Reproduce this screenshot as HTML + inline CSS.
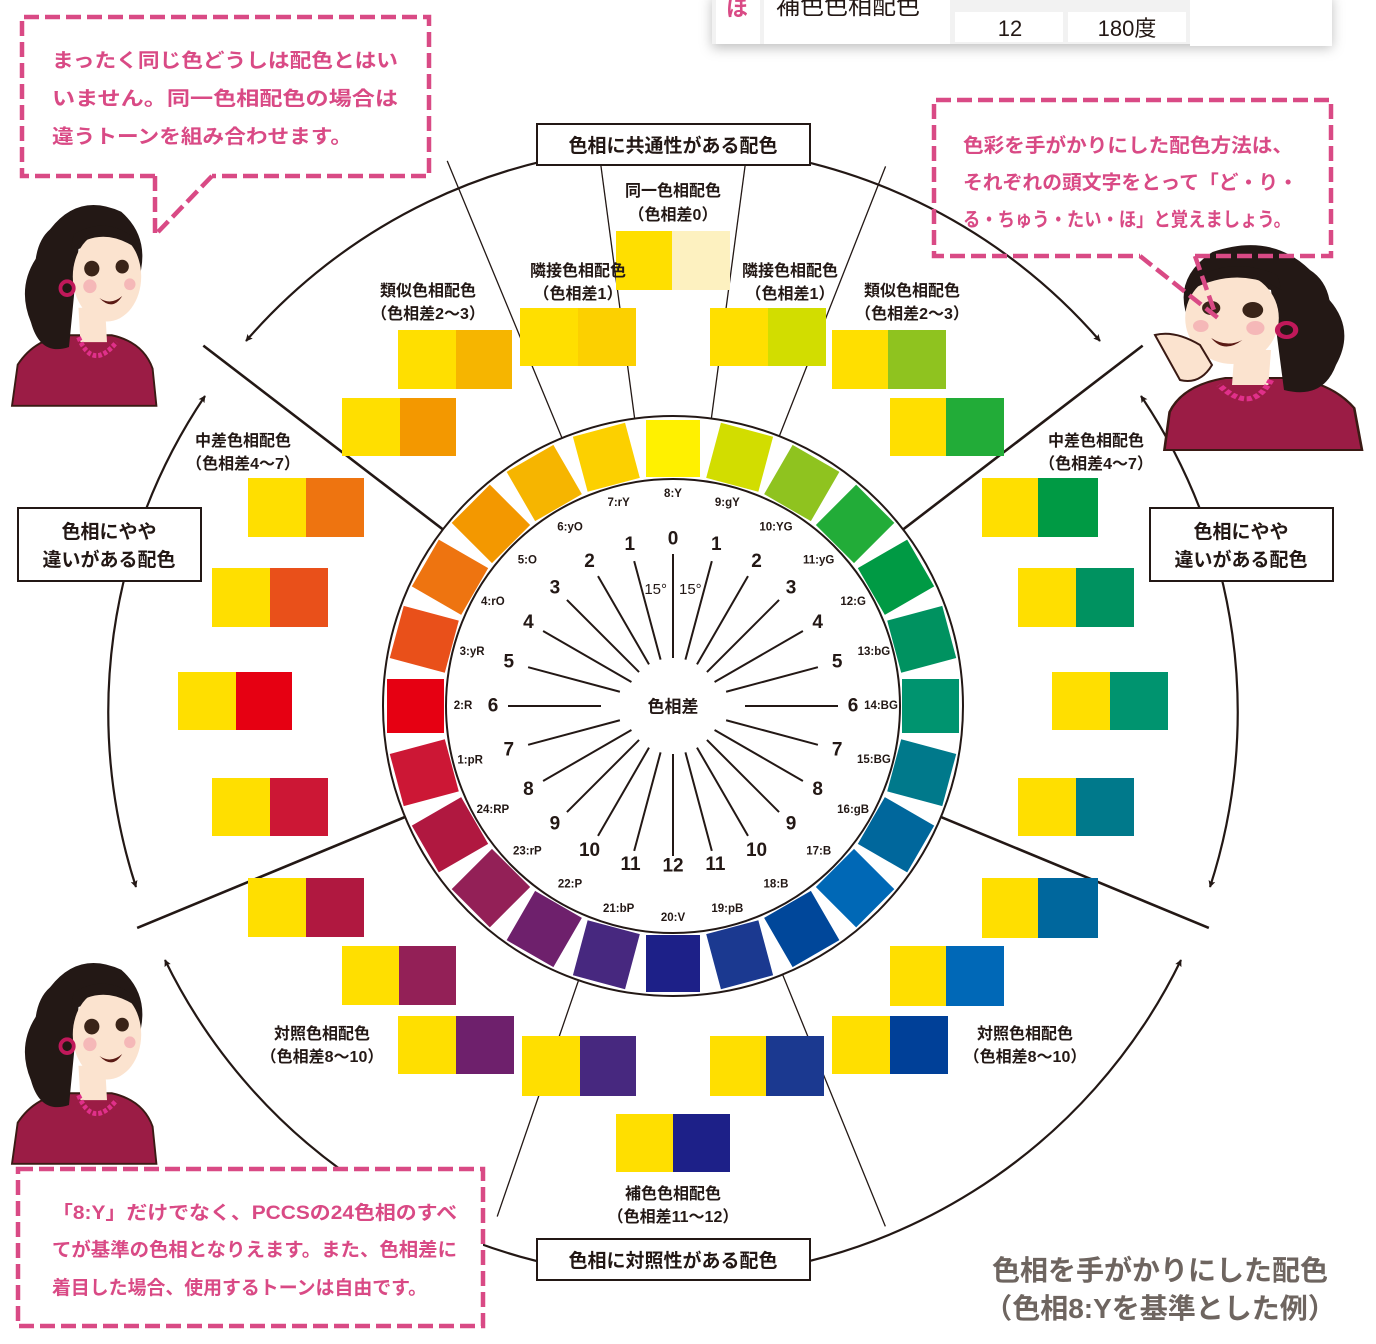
<!DOCTYPE html>
<html><head><meta charset="utf-8"><style>
html,body{margin:0;padding:0;background:#fff}
svg{display:block}
text{font-family:"Liberation Sans","Noto Sans CJK JP",sans-serif}
.lb{font-size:16px;fill:#231815;text-anchor:middle;font-weight:bold}
.bx{font-size:19px;fill:#231815;text-anchor:middle;font-weight:bold}
.pk{font-size:19.5px;fill:#d94a85;font-weight:bold}
.hl{font-size:11.5px;font-weight:bold;fill:#231815;text-anchor:middle;dominant-baseline:central}
.nm{font-size:19px;font-weight:bold;fill:#231815;text-anchor:middle;dominant-baseline:central}
</style></head><body>
<svg width="1376" height="1344" viewBox="0 0 1376 1344" xmlns="http://www.w3.org/2000/svg">
<defs>
<marker id="ar" viewBox="0 0 10 10" refX="9" refY="5" markerWidth="7" markerHeight="7" orient="auto-start-reverse" markerUnits="userSpaceOnUse"><path d="M0,0 L10,5 L0,10 L2,5 Z" fill="#231815"/></marker>
<g id="woman">
<path d="M0,210 L6,168 Q25,140 60,138 L105,138 Q138,145 148,172 L152,210 Z" fill="#9b1c45" stroke="#3a1a14" stroke-width="2"/>
<path d="M70,110 L98,110 L100,145 L72,145 Z" fill="#fbe3cf"/>
<path d="M40,30 Q70,-8 115,12 Q148,40 132,85 L120,70 Q100,40 70,50 L60,150 Q30,160 20,125 Q5,90 25,60 Q28,40 40,30 Z" fill="#231815"/>
<ellipse cx="100" cy="78" rx="36" ry="46" fill="#fbe3cf"/>
<path d="M62,50 Q95,25 132,50 L130,40 Q100,15 65,35 Z" fill="#231815"/>
<circle cx="84" cy="70" r="8" fill="#3a2418"/><circle cx="116" cy="68" r="7" fill="#3a2418"/>
<circle cx="82" cy="88" r="7" fill="#f5b8b8"/><circle cx="124" cy="86" r="6" fill="#f5b8b8"/>
<path d="M92,100 Q104,108 116,98 Q106,114 92,100 Z" fill="#5a1a14"/>
<circle cx="58" cy="90" r="7" fill="none" stroke="#c0185a" stroke-width="4"/>
<path d="M70,140 Q85,175 110,145" fill="none" stroke="#e0308a" stroke-width="5" stroke-dasharray="4 2"/>
</g>
</defs>

<!-- table top -->
<rect x="712" y="-6" width="620" height="50" fill="#fff" style="filter:drop-shadow(0 4px 6px rgba(0,0,0,0.25))"/>
<rect x="712" y="-6" width="620" height="50" fill="#f2f2f2"/>
<rect x="716" y="-6" width="44" height="50" fill="#fff"/>
<rect x="764" y="-6" width="186" height="50" fill="#fff"/>
<rect x="955" y="-6" width="108" height="6" fill="#fff"/>
<rect x="1068" y="-6" width="118" height="6" fill="#fff"/>
<rect x="955" y="12" width="108" height="30" fill="#fff"/>
<rect x="1068" y="12" width="118" height="30" fill="#fff"/>
<rect x="1190" y="-6" width="142" height="52" fill="#fff"/>
<text x="726" y="16" style="font-size:22px;fill:#d94a85;font-weight:bold">ほ</text>
<text x="776" y="14" style="font-size:24px;fill:#231815">補色色相配色</text>
<text x="1010" y="36" style="font-size:22px;fill:#231815;text-anchor:middle">12</text>
<text x="1127" y="36" style="font-size:22px;fill:#231815;text-anchor:middle">180度</text>

<!-- arcs -->
<g fill="none" stroke="#231815" stroke-width="2.2" marker-start="url(#ar)" marker-end="url(#ar)">
<path d="M246,341 A565,565 0 0 1 1100,341"/>
<path d="M205,396 A565,565 0 0 0 136,887"/>
<path d="M165,960 A565,565 0 0 0 1181,960"/>
<path d="M1141,396 A565,565 0 0 1 1210,887"/>
</g>

<!-- wheel lines -->
<g transform="translate(673,706)" stroke="#231815">
<g stroke-width="2.6">
<line x1="0" y1="-229" x2="0" y2="-592" transform="rotate(-52.5)"/>
<line x1="0" y1="-229" x2="0" y2="-592" transform="rotate(52.5)"/>
<line x1="0" y1="-229" x2="0" y2="-580" transform="rotate(-112.5)"/>
<line x1="0" y1="-229" x2="0" y2="-580" transform="rotate(112.5)"/>
</g>
<g stroke-width="1.3">
<line x1="0" y1="-229" x2="0" y2="-546" transform="rotate(-7.6)"/>
<line x1="0" y1="-229" x2="0" y2="-546" transform="rotate(7.6)"/>
<line x1="0" y1="-229" x2="0" y2="-590" transform="rotate(-22.5)"/>
<line x1="0" y1="-229" x2="0" y2="-580" transform="rotate(21.5)"/>
<line x1="0" y1="-229" x2="0" y2="-540" transform="rotate(-161)"/>
<line x1="0" y1="-229" x2="0" y2="-562" transform="rotate(157.8)"/>
</g>
</g>

<!-- wheel -->
<g transform="translate(673,706)">
<circle r="290" fill="#fff" stroke="#231815" stroke-width="2"/>
<circle r="227" fill="#fff" stroke="#231815" stroke-width="2"/>
<g>
<rect x="-27" y="-286" width="54" height="57" fill="#cc1735" transform="rotate(-105)"/>
<rect x="-27" y="-286" width="54" height="57" fill="#e60012" transform="rotate(-90)"/>
<rect x="-27" y="-286" width="54" height="57" fill="#e9501a" transform="rotate(-75)"/>
<rect x="-27" y="-286" width="54" height="57" fill="#ee7410" transform="rotate(-60)"/>
<rect x="-27" y="-286" width="54" height="57" fill="#f39800" transform="rotate(-45)"/>
<rect x="-27" y="-286" width="54" height="57" fill="#f6b500" transform="rotate(-30)"/>
<rect x="-27" y="-286" width="54" height="57" fill="#fcd000" transform="rotate(-15)"/>
<rect x="-27" y="-286" width="54" height="57" fill="#fff100" transform="rotate(0)"/>
<rect x="-27" y="-286" width="54" height="57" fill="#d2dd00" transform="rotate(15)"/>
<rect x="-27" y="-286" width="54" height="57" fill="#8fc31f" transform="rotate(30)"/>
<rect x="-27" y="-286" width="54" height="57" fill="#22ac38" transform="rotate(45)"/>
<rect x="-27" y="-286" width="54" height="57" fill="#009a44" transform="rotate(60)"/>
<rect x="-27" y="-286" width="54" height="57" fill="#009260" transform="rotate(75)"/>
<rect x="-27" y="-286" width="54" height="57" fill="#00946f" transform="rotate(90)"/>
<rect x="-27" y="-286" width="54" height="57" fill="#00798b" transform="rotate(105)"/>
<rect x="-27" y="-286" width="54" height="57" fill="#00679c" transform="rotate(120)"/>
<rect x="-27" y="-286" width="54" height="57" fill="#0068b6" transform="rotate(135)"/>
<rect x="-27" y="-286" width="54" height="57" fill="#00479a" transform="rotate(150)"/>
<rect x="-27" y="-286" width="54" height="57" fill="#1b3990" transform="rotate(165)"/>
<rect x="-27" y="-286" width="54" height="57" fill="#1d2088" transform="rotate(180)"/>
<rect x="-27" y="-286" width="54" height="57" fill="#47287f" transform="rotate(195)"/>
<rect x="-27" y="-286" width="54" height="57" fill="#6e206c" transform="rotate(210)"/>
<rect x="-27" y="-286" width="54" height="57" fill="#932057" transform="rotate(225)"/>
<rect x="-27" y="-286" width="54" height="57" fill="#b01840" transform="rotate(240)"/>
</g>
<g>
<text class="hl" transform="rotate(-105) translate(0,-210) rotate(105)">1:pR</text>
<text class="hl" transform="rotate(-90) translate(0,-210) rotate(90)">2:R</text>
<text class="hl" transform="rotate(-75) translate(0,-208) rotate(75)">3:yR</text>
<text class="hl" transform="rotate(-60) translate(0,-208) rotate(60)">4:rO</text>
<text class="hl" transform="rotate(-45) translate(0,-206) rotate(45)">5:O</text>
<text class="hl" transform="rotate(-30) translate(0,-206) rotate(30)">6:yO</text>
<text class="hl" transform="rotate(-15) translate(0,-210) rotate(15)">7:rY</text>
<text class="hl" transform="rotate(0) translate(0,-212)">8:Y</text>
<text class="hl" transform="rotate(15) translate(0,-210) rotate(-15)">9:gY</text>
<text class="hl" transform="rotate(30) translate(0,-206) rotate(-30)">10:YG</text>
<text class="hl" transform="rotate(45) translate(0,-206) rotate(-45)">11:yG</text>
<text class="hl" transform="rotate(60) translate(0,-208) rotate(-60)">12:G</text>
<text class="hl" transform="rotate(75) translate(0,-208) rotate(-75)">13:bG</text>
<text class="hl" transform="rotate(90) translate(0,-208) rotate(-90)">14:BG</text>
<text class="hl" transform="rotate(105) translate(0,-208) rotate(-105)">15:BG</text>
<text class="hl" transform="rotate(120) translate(0,-208) rotate(-120)">16:gB</text>
<text class="hl" transform="rotate(135) translate(0,-206) rotate(-135)">17:B</text>
<text class="hl" transform="rotate(150) translate(0,-206) rotate(-150)">18:B</text>
<text class="hl" transform="rotate(165) translate(0,-210) rotate(-165)">19:pB</text>
<text class="hl" transform="rotate(180) translate(0,-212) rotate(-180)">20:V</text>
<text class="hl" transform="rotate(195) translate(0,-210) rotate(-195)">21:bP</text>
<text class="hl" transform="rotate(210) translate(0,-206) rotate(-210)">22:P</text>
<text class="hl" transform="rotate(225) translate(0,-206) rotate(-225)">23:rP</text>
<text class="hl" transform="rotate(240) translate(0,-208) rotate(-240)">24:RP</text>
</g>
<g stroke="#231815" stroke-width="2">
<line x1="0" y1="-48" x2="0" y2="-152"/>
<line x1="0" y1="-48" x2="0" y2="-150" transform="rotate(15)"/>
<line x1="0" y1="-48" x2="0" y2="-150" transform="rotate(30)"/>
<line x1="0" y1="-48" x2="0" y2="-150" transform="rotate(45)"/>
<line x1="0" y1="-48" x2="0" y2="-150" transform="rotate(60)"/>
<line x1="0" y1="-55" x2="0" y2="-150" transform="rotate(75)"/>
<line x1="0" y1="-72" x2="0" y2="-165" transform="rotate(90)"/>
<line x1="0" y1="-55" x2="0" y2="-150" transform="rotate(105)"/>
<line x1="0" y1="-48" x2="0" y2="-150" transform="rotate(120)"/>
<line x1="0" y1="-48" x2="0" y2="-150" transform="rotate(135)"/>
<line x1="0" y1="-48" x2="0" y2="-150" transform="rotate(150)"/>
<line x1="0" y1="-48" x2="0" y2="-150" transform="rotate(165)"/>
<line x1="0" y1="-48" x2="0" y2="-150" transform="rotate(180)"/>
<line x1="0" y1="-48" x2="0" y2="-150" transform="rotate(195)"/>
<line x1="0" y1="-48" x2="0" y2="-150" transform="rotate(210)"/>
<line x1="0" y1="-48" x2="0" y2="-150" transform="rotate(225)"/>
<line x1="0" y1="-48" x2="0" y2="-150" transform="rotate(240)"/>
<line x1="0" y1="-55" x2="0" y2="-150" transform="rotate(255)"/>
<line x1="0" y1="-72" x2="0" y2="-165" transform="rotate(270)"/>
<line x1="0" y1="-55" x2="0" y2="-150" transform="rotate(285)"/>
<line x1="0" y1="-48" x2="0" y2="-150" transform="rotate(300)"/>
<line x1="0" y1="-48" x2="0" y2="-150" transform="rotate(315)"/>
<line x1="0" y1="-48" x2="0" y2="-150" transform="rotate(330)"/>
<line x1="0" y1="-48" x2="0" y2="-150" transform="rotate(345)"/>
</g>
<g>
<text class="nm" transform="translate(0,-167)">0</text>
<text class="nm" transform="rotate(15) translate(0,-167) rotate(-15)">1</text>
<text class="nm" transform="rotate(30) translate(0,-167) rotate(-30)">2</text>
<text class="nm" transform="rotate(45) translate(0,-167) rotate(-45)">3</text>
<text class="nm" transform="rotate(60) translate(0,-167) rotate(-60)">4</text>
<text class="nm" transform="rotate(75) translate(0,-170) rotate(-75)">5</text>
<text class="nm" transform="rotate(90) translate(0,-180) rotate(-90)">6</text>
<text class="nm" transform="rotate(105) translate(0,-170) rotate(-105)">7</text>
<text class="nm" transform="rotate(120) translate(0,-167) rotate(-120)">8</text>
<text class="nm" transform="rotate(135) translate(0,-167) rotate(-135)">9</text>
<text class="nm" transform="rotate(150) translate(0,-167) rotate(-150)">10</text>
<text class="nm" transform="rotate(165) translate(0,-164) rotate(-165)">11</text>
<text class="nm" transform="rotate(180) translate(0,-160) rotate(-180)">12</text>
<text class="nm" transform="rotate(-15) translate(0,-167) rotate(15)">1</text>
<text class="nm" transform="rotate(-30) translate(0,-167) rotate(30)">2</text>
<text class="nm" transform="rotate(-45) translate(0,-167) rotate(45)">3</text>
<text class="nm" transform="rotate(-60) translate(0,-167) rotate(60)">4</text>
<text class="nm" transform="rotate(-75) translate(0,-170) rotate(75)">5</text>
<text class="nm" transform="rotate(-90) translate(0,-180) rotate(90)">6</text>
<text class="nm" transform="rotate(-105) translate(0,-170) rotate(105)">7</text>
<text class="nm" transform="rotate(-120) translate(0,-167) rotate(120)">8</text>
<text class="nm" transform="rotate(-135) translate(0,-167) rotate(135)">9</text>
<text class="nm" transform="rotate(-150) translate(0,-167) rotate(150)">10</text>
<text class="nm" transform="rotate(-165) translate(0,-164) rotate(165)">11</text>
</g>
<text x="-6" y="-112" style="font-size:15px;fill:#231815;text-anchor:end">15°</text>
<text x="6" y="-112" style="font-size:15px;fill:#231815">15°</text>
<text x="0" y="1" style="font-size:17px;font-weight:bold;fill:#231815;text-anchor:middle;dominant-baseline:central">色相差</text>
</g>

<!-- swatches -->
<g>
<rect x="616" y="231" width="58" height="59" fill="#ffdf00"/><rect x="672" y="231" width="58" height="59" fill="#fdf1c0"/>
<rect x="520" y="308" width="58" height="58" fill="#ffdf00"/><rect x="578" y="308" width="58" height="58" fill="#fcd000"/>
<rect x="710" y="308" width="58" height="58" fill="#ffdf00"/><rect x="768" y="308" width="58" height="58" fill="#d2dd00"/>
<rect x="398" y="330" width="58" height="59" fill="#ffdf00"/><rect x="456" y="330" width="56" height="59" fill="#f6b500"/>
<rect x="342" y="398" width="58" height="58" fill="#ffdf00"/><rect x="400" y="398" width="56" height="58" fill="#f39800"/>
<rect x="832" y="330" width="58" height="59" fill="#ffdf00"/><rect x="888" y="330" width="58" height="59" fill="#8fc31f"/>
<rect x="890" y="398" width="58" height="58" fill="#ffdf00"/><rect x="946" y="398" width="58" height="58" fill="#22ac38"/>
<rect x="248" y="478" width="58" height="59" fill="#ffdf00"/><rect x="306" y="478" width="58" height="59" fill="#ee7410"/>
<rect x="212" y="568" width="58" height="59" fill="#ffdf00"/><rect x="270" y="568" width="58" height="59" fill="#e9501a"/>
<rect x="178" y="672" width="58" height="58" fill="#ffdf00"/><rect x="236" y="672" width="56" height="58" fill="#e60012"/>
<rect x="212" y="778" width="58" height="58" fill="#ffdf00"/><rect x="270" y="778" width="58" height="58" fill="#cc1735"/>
<rect x="982" y="478" width="58" height="59" fill="#ffdf00"/><rect x="1038" y="478" width="60" height="59" fill="#009a44"/>
<rect x="1018" y="568" width="58" height="59" fill="#ffdf00"/><rect x="1076" y="568" width="58" height="59" fill="#009260"/>
<rect x="1052" y="672" width="58" height="58" fill="#ffdf00"/><rect x="1110" y="672" width="58" height="58" fill="#00946f"/>
<rect x="1018" y="778" width="58" height="58" fill="#ffdf00"/><rect x="1076" y="778" width="58" height="58" fill="#00798b"/>
<rect x="248" y="878" width="58" height="59" fill="#ffdf00"/><rect x="306" y="878" width="58" height="59" fill="#b01840"/>
<rect x="342" y="946" width="58" height="59" fill="#ffdf00"/><rect x="399" y="946" width="57" height="59" fill="#932057"/>
<rect x="398" y="1016" width="58" height="58" fill="#ffdf00"/><rect x="456" y="1016" width="58" height="58" fill="#6e206c"/>
<rect x="522" y="1036" width="58" height="60" fill="#ffdf00"/><rect x="580" y="1036" width="56" height="60" fill="#47287f"/>
<rect x="982" y="878" width="58" height="60" fill="#ffdf00"/><rect x="1038" y="878" width="60" height="60" fill="#00679d"/>
<rect x="890" y="946" width="58" height="60" fill="#ffdf00"/><rect x="946" y="946" width="58" height="60" fill="#0068b7"/>
<rect x="832" y="1016" width="58" height="58" fill="#ffdf00"/><rect x="890" y="1016" width="58" height="58" fill="#004098"/>
<rect x="710" y="1036" width="58" height="60" fill="#ffdf00"/><rect x="766" y="1036" width="58" height="60" fill="#1b3990"/>
<rect x="616" y="1114" width="58" height="58" fill="#ffdf00"/><rect x="673" y="1114" width="57" height="58" fill="#1d2088"/>
</g>

<!-- swatch labels -->
<text class="lb" x="673" y="196">同一色相配色</text><text class="lb" x="673" y="220">（色相差0）</text>
<text class="lb" x="578" y="276">隣接色相配色</text><text class="lb" x="578" y="299">（色相差1）</text>
<text class="lb" x="790" y="276">隣接色相配色</text><text class="lb" x="790" y="299">（色相差1）</text>
<text class="lb" x="428" y="296">類似色相配色</text><text class="lb" x="428" y="319">（色相差2〜3）</text>
<text class="lb" x="912" y="296">類似色相配色</text><text class="lb" x="912" y="319">（色相差2〜3）</text>
<text class="lb" x="243" y="446">中差色相配色</text><text class="lb" x="243" y="469">（色相差4〜7）</text>
<text class="lb" x="1096" y="446">中差色相配色</text><text class="lb" x="1096" y="469">（色相差4〜7）</text>
<text class="lb" x="322" y="1039">対照色相配色</text><text class="lb" x="322" y="1062">（色相差8〜10）</text>
<text class="lb" x="1025" y="1039">対照色相配色</text><text class="lb" x="1025" y="1062">（色相差8〜10）</text>
<text class="lb" x="673" y="1199">補色色相配色</text><text class="lb" x="673" y="1222">（色相差11〜12）</text>

<!-- category boxes -->
<rect x="537" y="124" width="273" height="41" fill="#fff" stroke="#231815" stroke-width="2"/>
<text class="bx" x="673" y="152">色相に共通性がある配色</text>
<rect x="18" y="508" width="183" height="73" fill="#fff" stroke="#231815" stroke-width="2"/>
<text class="bx" x="109" y="538">色相にやや</text><text class="bx" x="109" y="566">違いがある配色</text>
<rect x="1150" y="508" width="183" height="73" fill="#fff" stroke="#231815" stroke-width="2"/>
<text class="bx" x="1241" y="538">色相にやや</text><text class="bx" x="1241" y="566">違いがある配色</text>
<rect x="537" y="1239" width="273" height="41" fill="#fff" stroke="#231815" stroke-width="2"/>
<text class="bx" x="673" y="1267">色相に対照性がある配色</text>

<!-- women -->
<use href="#woman" transform="translate(12,200) scale(0.95,0.98)"/>
<use href="#woman" transform="translate(12,958) scale(0.95,0.98)"/>
<use href="#woman" transform="translate(1362,240) scale(-1.3,1)"/>
<path d="M1155,335 Q1175,330 1200,345 L1212,365 Q1200,385 1180,380 Z" fill="#fbe3cf" stroke="#3a1a14" stroke-width="2"/>

<!-- callouts -->
<rect x="18" y="1169" width="465" height="157" fill="#fff"/>
<g fill="none" stroke="#d94a85" stroke-width="4.5" stroke-dasharray="15 6">
<path d="M155,176 L22,176 L22,17 L429,17 L429,176 L212,176"/>
<path d="M155,176 L155,235 M212,176 L158,232"/>
<path d="M1195,256 L1331,256 L1331,100 L934,100 L934,256 L1140,256"/>
<path d="M1140,256 L1218,318 M1195,256 L1216,316"/>
<rect x="18" y="1169" width="465" height="157"/>
</g>
<text class="pk" x="52" y="67" textLength="346" lengthAdjust="spacingAndGlyphs">まったく同じ色どうしは配色とはい</text>
<text class="pk" x="52" y="105" textLength="346" lengthAdjust="spacingAndGlyphs">いません。同一色相配色の場合は</text>
<text class="pk" x="52" y="143" textLength="300" lengthAdjust="spacingAndGlyphs">違うトーンを組み合わせます。</text>
<text class="pk" x="963" y="152" textLength="330" lengthAdjust="spacingAndGlyphs">色彩を手がかりにした配色方法は、</text>
<text class="pk" x="963" y="189" textLength="335" lengthAdjust="spacingAndGlyphs">それぞれの頭文字をとって「ど・り・</text>
<text class="pk" x="963" y="226" textLength="328" lengthAdjust="spacingAndGlyphs">る・ちゅう・たい・ほ」と覚えましょう。</text>
<text class="pk" x="52" y="1219" style="font-size:19px" textLength="405" lengthAdjust="spacingAndGlyphs">「8:Y」だけでなく、PCCSの24色相のすべ</text>
<text class="pk" x="52" y="1256" style="font-size:19px" textLength="405" lengthAdjust="spacingAndGlyphs">てが基準の色相となりえます。また、色相差に</text>
<text class="pk" x="52" y="1294" style="font-size:19px" textLength="375" lengthAdjust="spacingAndGlyphs">着目した場合、使用するトーンは自由です。</text>

<!-- title -->
<text x="1160" y="1280" style="font-size:28px;font-weight:bold;fill:#6e6560;text-anchor:middle">色相を手がかりにした配色</text>
<text x="1160" y="1318" style="font-size:28px;font-weight:bold;fill:#6e6560;text-anchor:middle">（色相8:Yを基準とした例）</text>
</svg>
</body></html>
